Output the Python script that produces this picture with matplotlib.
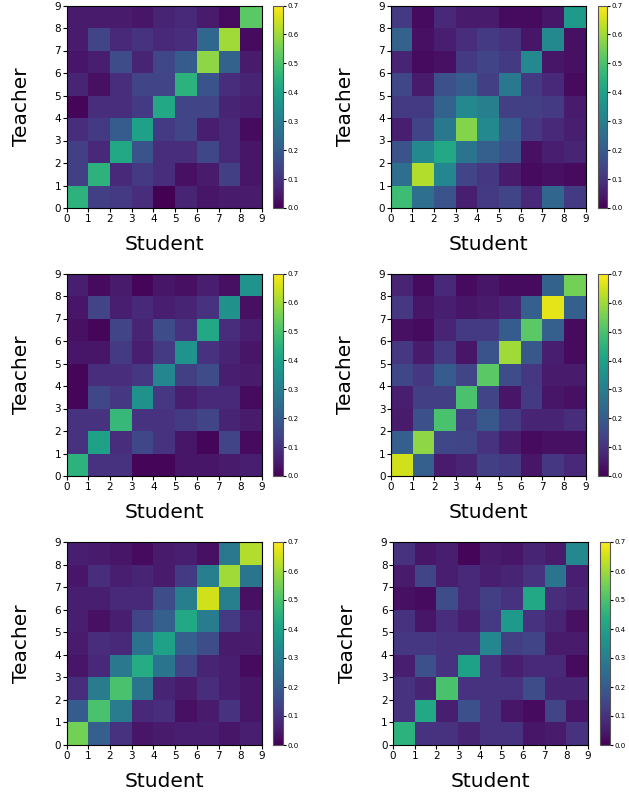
import numpy as np
import matplotlib
matplotlib.use("Agg")
import matplotlib.pyplot as plt

ticks = list(range(10))
cbar_ticks = [0.0, 0.1, 0.2, 0.3, 0.4, 0.5, 0.6, 0.7]

m1 = [
    [0.45, 0.13, 0.12, 0.09, 0.00, 0.07, 0.04, 0.05, 0.05],
    [0.13, 0.45, 0.08, 0.12, 0.09, 0.03, 0.05, 0.13, 0.04],
    [0.13, 0.08, 0.42, 0.18, 0.09, 0.09, 0.15, 0.08, 0.04],
    [0.09, 0.12, 0.20, 0.40, 0.12, 0.14, 0.06, 0.08, 0.02],
    [0.01, 0.09, 0.09, 0.12, 0.42, 0.14, 0.14, 0.07, 0.06],
    [0.07, 0.03, 0.09, 0.14, 0.14, 0.45, 0.18, 0.09, 0.07],
    [0.04, 0.06, 0.16, 0.07, 0.15, 0.20, 0.58, 0.22, 0.05],
    [0.05, 0.14, 0.08, 0.10, 0.08, 0.09, 0.23, 0.60, 0.02],
    [0.05, 0.05, 0.05, 0.04, 0.07, 0.08, 0.05, 0.02, 0.52],
]
m2 = [
    [0.48, 0.25, 0.18, 0.06, 0.12, 0.14, 0.08, 0.23, 0.12],
    [0.25, 0.62, 0.32, 0.14, 0.11, 0.05, 0.02, 0.03, 0.02],
    [0.18, 0.33, 0.42, 0.27, 0.21, 0.17, 0.03, 0.06, 0.07],
    [0.06, 0.14, 0.28, 0.57, 0.33, 0.20, 0.11, 0.08, 0.06],
    [0.12, 0.12, 0.22, 0.33, 0.30, 0.13, 0.13, 0.12, 0.05],
    [0.15, 0.05, 0.17, 0.20, 0.13, 0.28, 0.12, 0.08, 0.02],
    [0.07, 0.02, 0.03, 0.12, 0.14, 0.12, 0.33, 0.04, 0.03],
    [0.22, 0.03, 0.06, 0.09, 0.12, 0.10, 0.04, 0.33, 0.03],
    [0.12, 0.02, 0.08, 0.05, 0.05, 0.02, 0.02, 0.04, 0.38],
]
m3 = [
    [0.45, 0.10, 0.10, 0.01, 0.01, 0.04, 0.04, 0.05, 0.06],
    [0.10, 0.40, 0.09, 0.15, 0.10, 0.04, 0.01, 0.14, 0.02],
    [0.10, 0.10, 0.47, 0.10, 0.10, 0.12, 0.14, 0.07, 0.05],
    [0.01, 0.15, 0.11, 0.35, 0.11, 0.06, 0.08, 0.08, 0.02],
    [0.01, 0.09, 0.09, 0.11, 0.32, 0.13, 0.16, 0.06, 0.05],
    [0.04, 0.04, 0.12, 0.06, 0.12, 0.36, 0.10, 0.07, 0.04],
    [0.03, 0.01, 0.14, 0.07, 0.16, 0.10, 0.42, 0.09, 0.06],
    [0.04, 0.14, 0.06, 0.08, 0.06, 0.07, 0.10, 0.35, 0.03],
    [0.06, 0.02, 0.05, 0.01, 0.04, 0.03, 0.06, 0.03, 0.36],
]
m4 = [
    [0.65, 0.21, 0.05, 0.07, 0.13, 0.12, 0.04, 0.11, 0.08],
    [0.21, 0.58, 0.15, 0.14, 0.10, 0.05, 0.02, 0.03, 0.03],
    [0.05, 0.17, 0.50, 0.13, 0.19, 0.12, 0.07, 0.07, 0.09],
    [0.06, 0.13, 0.13, 0.50, 0.14, 0.04, 0.12, 0.04, 0.03],
    [0.15, 0.11, 0.20, 0.14, 0.52, 0.16, 0.11, 0.05, 0.05],
    [0.11, 0.05, 0.12, 0.04, 0.18, 0.60, 0.19, 0.06, 0.02],
    [0.03, 0.02, 0.07, 0.12, 0.12, 0.20, 0.52, 0.21, 0.02],
    [0.11, 0.04, 0.06, 0.04, 0.05, 0.07, 0.21, 0.67, 0.21],
    [0.07, 0.02, 0.08, 0.02, 0.04, 0.02, 0.02, 0.22, 0.55],
]
m5 = [
    [0.55, 0.21, 0.10, 0.04, 0.05, 0.06, 0.06, 0.04, 0.06],
    [0.20, 0.50, 0.29, 0.08, 0.09, 0.03, 0.05, 0.10, 0.04],
    [0.09, 0.29, 0.50, 0.27, 0.07, 0.05, 0.09, 0.06, 0.04],
    [0.04, 0.08, 0.28, 0.43, 0.27, 0.14, 0.07, 0.06, 0.02],
    [0.05, 0.09, 0.08, 0.26, 0.40, 0.21, 0.16, 0.05, 0.05],
    [0.06, 0.03, 0.06, 0.14, 0.21, 0.42, 0.29, 0.12, 0.06],
    [0.06, 0.06, 0.08, 0.08, 0.16, 0.30, 0.65, 0.30, 0.03],
    [0.04, 0.09, 0.06, 0.07, 0.05, 0.12, 0.30, 0.60, 0.27],
    [0.06, 0.05, 0.04, 0.02, 0.05, 0.06, 0.03, 0.28, 0.62],
]
m6 = [
    [0.45, 0.10, 0.10, 0.07, 0.10, 0.10, 0.04, 0.05, 0.10],
    [0.10, 0.42, 0.06, 0.17, 0.10, 0.04, 0.02, 0.14, 0.04],
    [0.10, 0.07, 0.50, 0.10, 0.10, 0.10, 0.16, 0.07, 0.07],
    [0.06, 0.17, 0.10, 0.40, 0.10, 0.06, 0.08, 0.08, 0.02],
    [0.11, 0.11, 0.10, 0.10, 0.32, 0.13, 0.14, 0.05, 0.05],
    [0.10, 0.04, 0.09, 0.06, 0.12, 0.38, 0.10, 0.07, 0.03],
    [0.03, 0.02, 0.16, 0.08, 0.13, 0.10, 0.42, 0.09, 0.07],
    [0.05, 0.14, 0.06, 0.08, 0.06, 0.07, 0.10, 0.27, 0.06],
    [0.10, 0.04, 0.06, 0.01, 0.05, 0.04, 0.07, 0.05, 0.33],
]
matrices = [m1, m2, m3, m4, m5, m6]

W, H = 629, 792
fig = plt.figure(figsize=(W / 100, H / 100), dpi=100)

# pixel boxes: (left, top, right, bottom) for axes; colorbar (left, right)
boxes = [
    (66.5, 5.5, 262, 208, 273, 283),
    (390.5, 5.5, 585.5, 208, 597.5, 607),
    (66.5, 273.5, 262, 476, 273, 283),
    (391, 274, 585.5, 476, 598, 607.5),
    (66.5, 542, 262, 745, 273, 283),
    (393, 542, 588, 745, 600, 610),
]

for mat, (l, t, r, b, cl, cr) in zip(matrices, boxes):
    ax = fig.add_axes([l / W, 1 - b / H, (r - l) / W, (b - t) / H])
    data = np.array(mat)
    mesh = ax.pcolormesh(np.arange(10), np.arange(10), data, cmap="viridis",
                         vmin=0, vmax=0.7)
    ax.set_xlim(0, 9)
    ax.set_ylim(0, 9)
    ax.set_xticks(ticks)
    ax.set_yticks(ticks)
    ax.tick_params(labelsize=7.5, length=3, pad=1)
    ax.set_xlabel("Student", fontsize=14.5, labelpad=8)
    ax.set_ylabel("Teacher", fontsize=14.5, labelpad=17)
    cax = fig.add_axes([cl / W, 1 - b / H, (cr - cl) / W, (b - t) / H])
    cb = fig.colorbar(mesh, cax=cax, ticks=cbar_ticks)
    cb.ax.tick_params(labelsize=5, length=2, pad=1)
    cb.ax.set_yticklabels([f"{v:.1f}" for v in cbar_ticks])
    cb.outline.set_edgecolor("#555555")

fig.savefig("out.png", dpi=100)
